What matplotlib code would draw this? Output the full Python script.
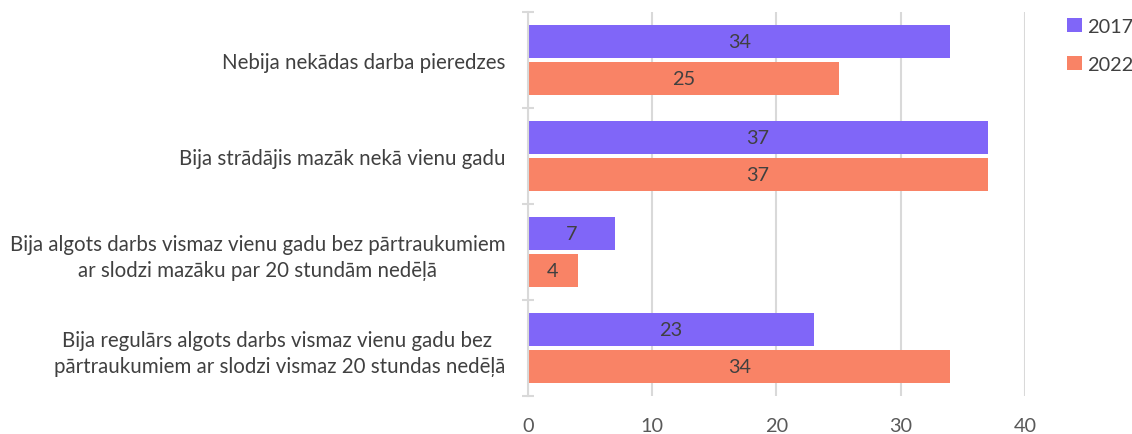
import numpy as np
import matplotlib.pyplot as plt

categories = [
    'Nebija nekādas darba pieredzes',
    'Bija strādājis mazāk nekā vienu gadu',
    'Bija algots darbs vismaz vienu gadu bez pārtraukumiem\nar slodzi mazāku par 20 stundām nedēļā',
    'Bija regulārs algots darbs vismaz vienu gadu bez \npārtraukumiem ar slodzi vismaz 20 stundas nedēļā',
]
years = ['2017', '2022']
vals_2017 = [34, 37, 7, 23]
vals_2022 = [25, 37, 4, 34]
xticks = [0, 10, 20, 30, 40]

plt.rcParams['font.family'] = ['Lato', 'DejaVu Sans']
txt = '#404040'
c17 = '#8066F8'
c22 = '#F98366'
fs = 14.8

fig = plt.figure(figsize=(11.32, 4.35), dpi=100)
ax = fig.add_axes([0.4664, 0.0874, 0.4391, 0.8826])

y = np.arange(len(categories))
h = 0.34
off = 0.19
b1 = ax.barh(y - off, vals_2017, height=h, color=c17, label=years[0], zorder=3)
b2 = ax.barh(y + off, vals_2022, height=h, color=c22, label=years[1], zorder=3)
for bars in (b1, b2):
    ax.bar_label(bars, label_type='center', color=txt, fontsize=14.3)

ax.set_ylim(len(categories) - 0.5, -0.5)
ax.set_xlim(0, 40)
ax.set_xticks(xticks)
ax.set_yticks(y)
ax.set_yticklabels(categories, multialignment='center', linespacing=1.35)
ax.set_yticks(np.arange(len(categories) + 1) - 0.5, minor=True)
ax.tick_params(axis='y', which='major', length=0, pad=16, labelsize=fs, labelcolor=txt)
ax.tick_params(axis='y', which='minor', length=9, direction='inout', color='#d9d9d9', width=1.5)
ax.tick_params(axis='x', length=0, pad=15, labelsize=14.3, labelcolor='#595959')
ax.grid(axis='x', color='#d9d9d9', linewidth=1.5, zorder=0)
for s in ['top', 'right', 'bottom']:
    ax.spines[s].set_visible(False)
ax.spines['left'].set_color('#d9d9d9')
ax.spines['left'].set_linewidth(1.5)
ax.spines['left'].set_zorder(4)

leg = fig.legend(loc='upper left', bbox_to_anchor=(0.927, 0.998), frameon=False,
                 handlelength=0.75, handleheight=0.75, handletextpad=0.25,
                 labelspacing=1.05, fontsize=14.3, labelcolor=txt)

fig.savefig('out.png', dpi=100)
